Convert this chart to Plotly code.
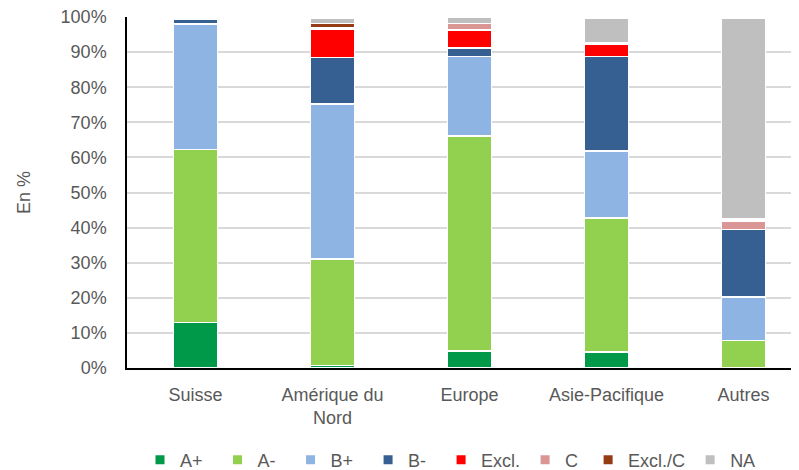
import plotly.graph_objects as go

categories = ["Suisse", "Amérique du<br>Nord", "Europe", "Asie-Pacifique", "Autres"]
series_names = ["A+", "A-", "B+", "B-", "Excl.", "C", "Excl./C", "NA"]

a_plus  = [13.0, 0.7, 4.9, 4.5, 0.0]
a_minus = [49.3, 30.3, 61.2, 38.2, 7.9]
b_plus  = [35.7, 44.2, 22.6, 19.1, 12.4]
b_minus = [1.4, 13.3, 2.4, 27.0, 19.1]
excl    = [0.0, 8.0, 5.2, 3.5, 0.0]
c_vals  = [0.0, 0.3, 1.9, 0.5, 2.5]
excl_c  = [0.0, 1.3, 0.0, 0.0, 0.6]
na_vals = [0.0, 1.6, 1.6, 6.9, 57.1]

series_values = [a_plus, a_minus, b_plus, b_minus, excl, c_vals, excl_c, na_vals]
colors = ["#00994A", "#92D050", "#8EB4E3", "#366092", "#FF0000", "#DA9694", "#963C14", "#BFBFBF"]

y_ticks = [i / 10 for i in range(11)]
y_tick_labels = [f"{i*10}%" for i in range(11)]

FONT = "Liberation Sans"
GREY = "#595959"
NB = "\u00a0"
# extra trailing spacing in legend entries (spacing only)
legend_pad = [2, 2, 2, 2, 0, 1, 0, 0]

# page has an 8px body margin -> figure is sized to fit inside the window
W, H = 791, 462

fig = go.Figure()
for name, vals, col in zip(series_names, series_values, colors):
    fig.add_trace(go.Bar(
        x=categories, y=[v / 100 for v in vals], name=name,
        marker=dict(color=col, line=dict(color="white", width=1.5)),
        width=0.32, showlegend=False,
    ))
for name, col, pad in zip(series_names, colors, legend_pad):
    fig.add_trace(go.Scatter(
        x=[None], y=[None], mode="markers", name=name + NB * pad,
        marker=dict(symbol="square", size=9, color=col),
        showlegend=True,
    ))

fig.update_layout(
    barmode="stack",
    width=W, height=H,
    margin=dict(l=119, r=0, t=9, b=H - 9 - 351),
    paper_bgcolor="white", plot_bgcolor="white",
    font=dict(family=FONT, size=18, color=GREY),
    legend=dict(orientation="h", traceorder="normal",
                xref="container", yref="container",
                x=132 / W, y=1 - 452 / H, yanchor="middle", xanchor="left",
                font=dict(size=18, color=GREY), itemwidth=30),
    xaxis=dict(
        showline=True, linecolor="black", linewidth=2,
        showgrid=False, ticks="", tickfont=dict(size=18, color=GREY),
        range=[-0.5, 4.405], ticklabelstandoff=9, automargin=False,
    ),
    yaxis=dict(
        range=[0, 1], tickvals=y_ticks, ticktext=y_tick_labels,
        showgrid=True, gridcolor="#D9D9D9", gridwidth=1.5,
        showline=True, linecolor="black", linewidth=1.5,
        ticks="", tickfont=dict(size=18, color=GREY), ticklabelstandoff=15,
        ticklabeloverflow="allow",
        zeroline=False, automargin=False,
        title=dict(text="En %", font=dict(size=18, color=GREY), standoff=25),
    ),
)

fig.write_html("out.html")
